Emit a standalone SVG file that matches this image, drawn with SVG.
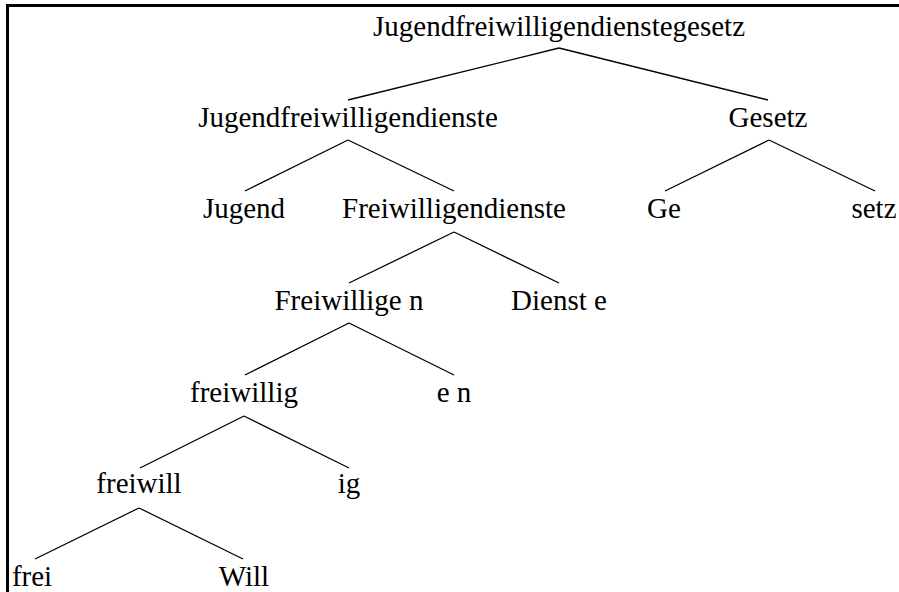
<svg xmlns="http://www.w3.org/2000/svg" width="899" height="592" viewBox="0 0 899 592">
<style>
text{font-family:"Liberation Serif","Times New Roman",serif;font-size:29px;fill:#000;text-anchor:middle}
.e line{stroke:#000;stroke-width:1.3;fill:none}
</style>
<rect width="899" height="592" fill="#fff"/>
<path d="M7.5,592 V5.5 H899" fill="none" stroke="#000" stroke-width="3"/>
<g class="e" id="connectors">
<line x1="559" y1="48" x2="348" y2="100"/>
<line x1="559" y1="48" x2="768" y2="100"/>
<line x1="348" y1="140" x2="245" y2="191"/>
<line x1="348" y1="140" x2="454" y2="191"/>
<line x1="769" y1="140" x2="665" y2="191"/>
<line x1="769" y1="140" x2="875" y2="191"/>
<line x1="454" y1="232" x2="349" y2="283"/>
<line x1="454" y1="232" x2="559" y2="283"/>
<line x1="349" y1="323" x2="245" y2="375"/>
<line x1="349" y1="323" x2="454" y2="375"/>
<line x1="244" y1="416" x2="140" y2="468"/>
<line x1="244" y1="416" x2="349" y2="468"/>
<line x1="139" y1="508" x2="35" y2="559"/>
<line x1="139" y1="508" x2="243" y2="559"/>
</g>
<g id="n-root"><text x="559" y="36">Jugendfreiwilligendienstegesetz</text></g>
<g id="n-jfd"><text x="348" y="127">Jugendfreiwilligendienste</text></g>
<g id="n-gesetz"><text x="768" y="127">Gesetz</text></g>
<g id="n-jugend"><text x="244" y="218">Jugend</text></g>
<g id="n-fd"><text x="454" y="218">Freiwilligendienste</text></g>
<g id="n-ge"><text x="664" y="218">Ge</text></g>
<g id="n-setz"><text x="874" y="218">setz</text></g>
<g id="n-freiwilligen"><text x="349" y="310">Freiwillige n</text></g>
<g id="n-dienste"><text x="559" y="310">Dienst e</text></g>
<g id="n-freiwillig"><text x="244" y="402">freiwillig</text></g>
<g id="n-en"><text x="454" y="402">e n</text></g>
<g id="n-freiwill"><text x="139" y="493">freiwill</text></g>
<g id="n-ig"><text x="349" y="493">ig</text></g>
<g id="n-frei"><text x="32" y="586">frei</text></g>
<g id="n-will"><text x="244" y="586">Will</text></g>
</svg>
